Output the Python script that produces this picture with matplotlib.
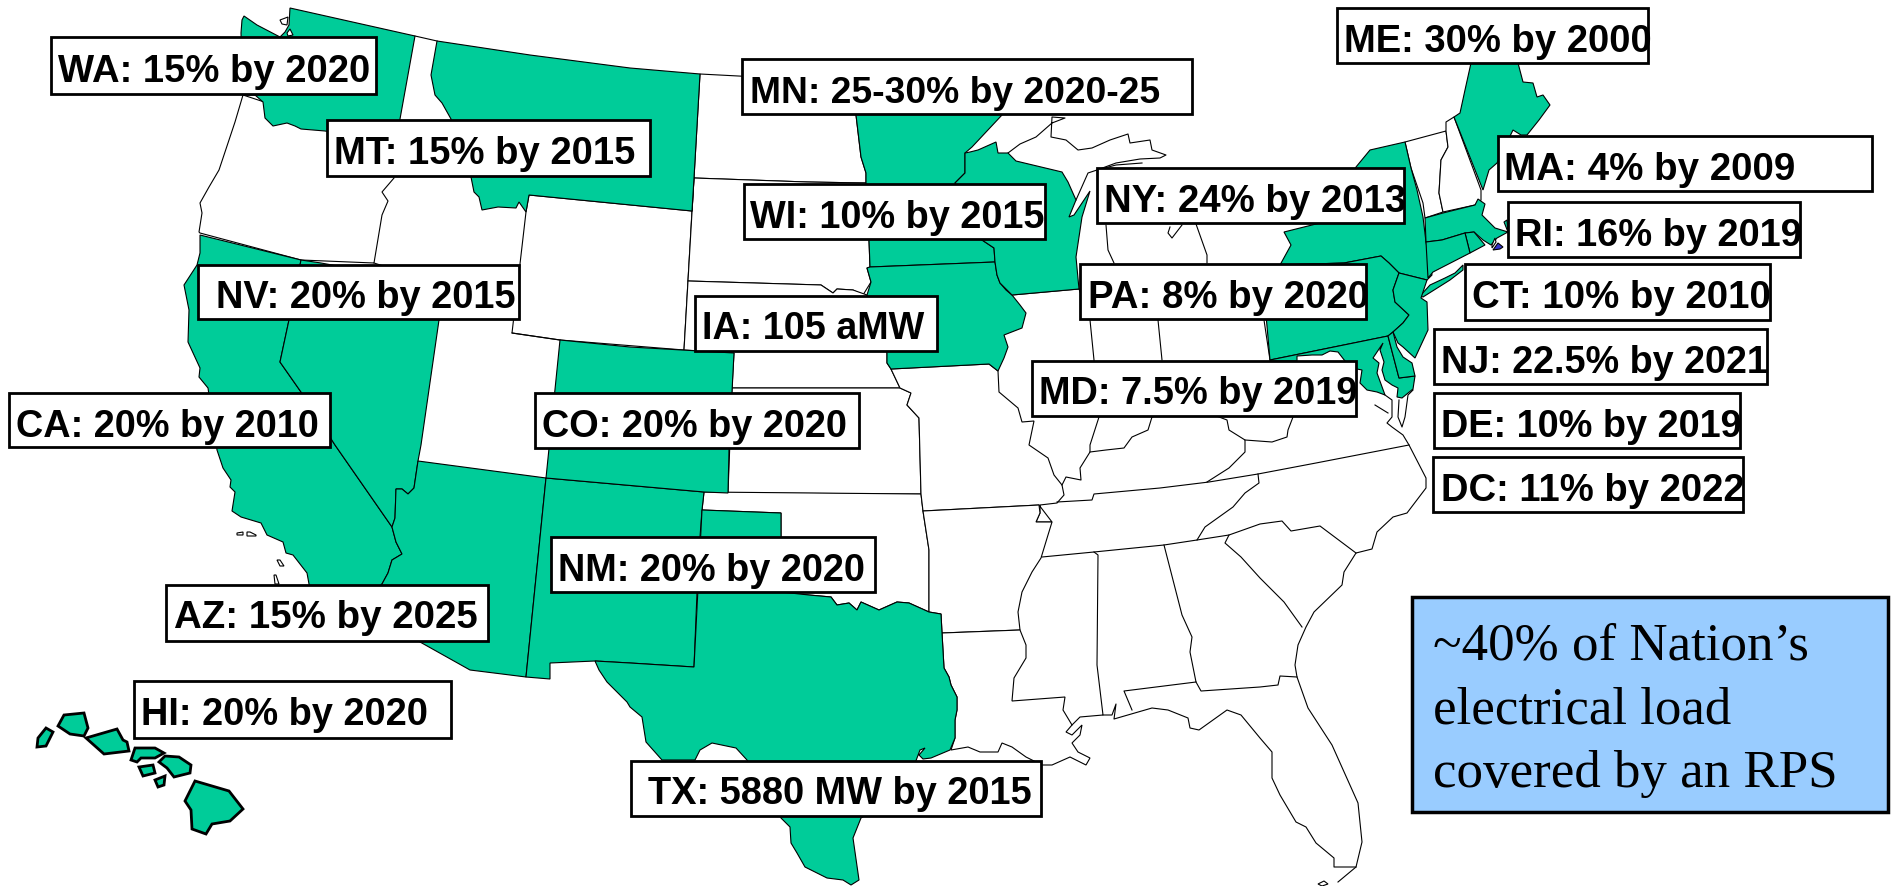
import matplotlib
matplotlib.use('Agg')
import matplotlib.pyplot as plt
from matplotlib.patches import Polygon, Rectangle

# State outlines (x, y in image pixels)
WA = [(290,8),(415,36),(400,119),(395,145),(325,131),(301,129),(295,126),(287,123),(273,126),(265,118),(263,102),(255,95),(243,95),(241,33),(242,20),(244,16),(257,25),(280,37),(285,32),(289,25)]
MT = [(437,41),(530,55),(630,68),(700,74),(694,178),(692,211),(529,195),(526,212),(519,202),(516,208),(498,207),(482,210),(479,197),(474,192),(471,177),(451,119),(442,103),(435,95),(431,75)]
CA = [(200,235),(200,253),(197,265),(184,285),(189,310),(188,342),(200,368),(199,377),(208,388),(217,450),(223,468),(231,480),(230,487),(235,492),(232,511),(241,517),(261,523),(267,535),(283,542),(286,553),(293,555),(307,573),(309,584),(312,592),(378,587),(382,584),(388,573),(392,560),(402,554),(396,542),(392,527),(335,445),(301,392),(280,362),(289,320),(301,260)]
NV = [(301,260),(321,263),(443,285),(439,320),(421,445),(418,461),(414,488),(408,494),(402,489),(396,489),(395,518),(392,527),(335,445),(301,392),(280,362),(289,320)]
AZ = [(418,461),(546,478),(526,677),(470,670),(420,642),(378,600),(382,584),(388,573),(392,560),(402,554),(396,542),(392,527),(395,518),(396,489),(402,489),(408,494),(414,488)]
NM = [(546,478),(704,492),(702,510),(700,537),(697,593),(694,667),(630,663),(595,661),(550,663),(550,679),(526,677)]
CO = [(560,340),(630,347),(734,353),(732,392),(729,450),(728,493),(704,492),(546,478)]
TX = [(702,510),(781,513),(781,592),(809,595),(831,597),(837,605),(849,603),(857,610),(861,602),(879,610),(897,602),(909,603),(929,612),(941,614),(942,633),(944,668),(949,677),(951,685),(957,697),(957,710),(955,720),(955,738),(950,750),(931,758),(923,759),(919,755),(925,748),(920,750),(905,790),(861,818),(853,838),(859,880),(851,885),(843,880),(827,878),(805,867),(797,853),(791,843),(790,827),(781,818),(747,760),(736,748),(712,743),(700,750),(695,760),(662,760),(646,742),(642,717),(630,707),(627,702),(607,682),(599,670),(595,661),(630,663),(694,667)]
MN = [(856,115),(853,82),(905,88),(1002,115),(972,147),(965,153),(965,173),(955,183),(982,240),(994,248),(995,262),(870,267),(869,240),(866,183),(866,173),(861,157)]
IA = [(870,267),(995,262),(997,275),(1000,283),(1006,290),(1012,295),(1020,305),(1026,313),(1022,328),(1004,335),(1008,347),(1004,358),(998,371),(989,364),(891,369),(887,363),(887,353),(867,295),(871,282),(867,268)]
WI = [(965,153),(970,152),(978,150),(996,142),(998,153),(1008,153),(1016,161),(1062,172),(1068,182),(1076,200),(1069,217),(1074,215),(1082,203),(1090,191),(1082,217),(1076,257),(1079,289),(1012,295),(1000,283),(997,275),(995,262),(994,248),(982,240),(955,183),(965,173)]
NY = [(1370,150),(1405,142),(1411,168),(1417,190),(1423,217),(1426,242),(1432,275),(1427,280),(1399,273),(1389,263),(1381,256),(1344,263),(1280,265),(1291,245),(1284,232),(1320,223),(1345,190),(1356,167)]
LI = [(1430,285),(1445,278),(1455,273),(1463,265),(1463,270),(1450,280),(1423,297),(1420,296)]
PA = [(1381,256),(1389,263),(1399,273),(1393,290),(1395,302),(1409,315),(1403,323),(1393,332),(1388,336),(1270,360),(1262,270),(1280,265),(1344,263)]
NJ = [(1399,273),(1427,280),(1421,298),(1427,302),(1428,330),(1415,358),(1403,347),(1398,343),(1393,332),(1403,323),(1409,315),(1395,302),(1393,290)]
DE = [(1388,336),(1393,332),(1397,347),(1403,357),(1412,363),(1415,376),(1399,378)]
MD = [(1270,360),(1388,336),(1399,378),(1415,376),(1413,389),(1402,398),(1397,397),(1398,388),(1392,385),(1385,380),(1382,370),(1384,362),(1380,350),(1383,343),(1373,358),(1379,363),(1377,373),(1385,395),(1377,392),(1367,390),(1360,383),(1362,370),(1357,369),(1345,361),(1338,352),(1330,351),(1322,355),(1312,355),(1297,356),(1297,361),(1270,361)]
ME = [(1475,45),(1510,45),(1518,63),(1523,82),(1533,83),(1537,97),(1543,95),(1550,105),(1539,120),(1527,135),(1521,135),(1513,130),(1497,163),(1489,170),(1483,190),(1454,117),(1460,113),(1465,90)]
MA = [(1425,218),(1443,213),(1475,205),(1478,199),(1485,204),(1482,215),(1495,228),(1508,232),(1504,222),(1507,220),(1508,232),(1497,238),(1491,245),(1483,240),(1474,232),(1465,233),(1442,240),(1426,242)]
RI = [(1465,233),(1474,232),(1485,245),(1470,253)]
CT = [(1426,242),(1442,240),(1465,233),(1470,253),(1433,272),(1428,278)]
HI = [
    [(37,747),(38,738),(46,728),(53,732),(46,746)],
    [(58,726),(64,715),(84,713),(88,728),(84,736),(70,734)],
    [(86,738),(117,729),(123,740),(127,742),(129,751),(104,754)],
    [(131,760),(135,748),(155,748),(164,753),(155,758),(141,758),(137,762)],
    [(159,762),(165,756),(179,757),(191,765),(190,773),(174,777),(167,768)],
    [(139,767),(153,765),(155,773),(143,776)],
    [(155,780),(165,776),(164,785),(158,787)],
    [(195,781),(229,791),(243,809),(230,821),(212,824),(206,834),(192,829),(191,810),(185,801)],
]
green_states = [WA, MT, CA, NV, AZ, NM, CO, TX, MN, IA, WI, NY, LI, PA, NJ, MD, DE, ME, MA, RI, CT]

# States without a target, only their outlines are drawn
OR = [(243,95),(235,122),(219,170),(209,187),(200,203),(202,213),(199,232),(200,233),(301,260),(374,263),(382,215),(388,201),(382,192),(394,178),(395,145)]
WY = [(529,195),(692,211),(684,350),(560,340),(512,333),(526,212)]
ND = [(700,74),(853,82),(856,115),(861,157),(866,173),(866,183),(807,182),(694,178)]
SD = [(694,178),(807,182),(866,183),(869,240),(870,267),(867,268),(871,282),(863,295),(853,290),(837,289),(833,293),(821,285),(688,281)]
NE = [(688,281),(821,285),(833,293),(837,289),(853,290),(867,295),(887,353),(887,363),(891,369),(900,388),(732,388),(734,353),(684,350)]
KS = [(732,388),(900,388),(911,393),(907,405),(919,418),(921,494),(728,493)]
OK = [(704,492),(921,494),(923,511),(929,550),(929,612),(909,603),(897,602),(879,610),(861,602),(857,610),(849,603),(837,605),(831,597),(809,595),(781,592),(781,513),(702,510)]
MO = [(891,369),(989,364),(998,371),(999,392),(1018,408),(1022,422),(1034,421),(1029,445),(1048,458),(1054,475),(1062,485),(1064,495),(1057,503),(1040,505),(1040,513),(1036,522),(1052,522),(1039,505),(923,511),(921,494),(919,418),(907,405),(911,393),(900,388)]
AR = [(923,511),(1039,505),(1040,513),(1036,522),(1052,522),(1048,535),(1041,558),(1032,572),(1022,592),(1018,612),(1020,630),(942,633),(941,614),(929,612),(929,550)]
LA = [(942,633),(1020,630),(1026,645),(1026,658),(1014,678),(1012,701),(1065,697),(1063,710),(1072,725),(1066,732),(1072,735),(1082,725),(1080,735),(1072,743),(1078,752),(1090,758),(1086,765),(1070,757),(1052,765),(1042,765),(1026,757),(1012,747),(1002,743),(998,752),(980,752),(968,747),(951,750),(955,738),(955,720),(957,710),(957,697),(951,685),(949,677),(944,668)]
MI_UP = [(1008,153),(1020,144),(1036,137),(1052,123),(1065,118),(1052,117),(1051,137),(1066,140),(1078,150),(1092,148),(1110,140),(1128,134),(1130,143),(1150,140),(1152,150),(1166,155),(1160,158),(1140,159),(1116,163),(1097,170),(1088,173),(1076,200)]
ID_NV = [(374,263),(443,285),(516,294)]
west_lines = [[(443,285),(439,320)], [(512,333),(560,340)], [(415,36),(437,41)], [(692,211),(694,178)]]
# Rivers and borders of the eastern half, drawn as open lines
east_lines = [
    [(1012,295),(1079,289)],
    [(1079,289),(1090,320),(1094,360),(1098,405),(1099,417),(1090,445),(1090,452),(1080,468),(1081,480),(1066,477),(1062,485)],
    [(1090,452),(1106,450),(1124,448),(1132,437),(1148,430),(1152,417)],
    [(1158,320),(1162,360)],
    [(1152,417),(1190,406),(1227,420),(1229,430),(1245,440),(1245,452),(1229,468),(1207,482)],
    [(1245,440),(1272,442),(1287,437),(1288,430),(1293,417)],
    [(1270,360),(1264,320)],
    [(1106,225),(1108,250),(1114,263)],
    [(1196,224),(1207,255),(1207,263)],
    [(1182,225),(1172,238),(1168,233),(1170,227)],
    [(1097,170),(1116,165),(1142,163)],
    [(1057,502),(1092,500),(1094,494),(1160,488),(1209,482),(1258,474),(1316,463),(1409,445)],
    [(1258,474),(1259,483),(1245,493),(1233,507),(1205,527),(1197,540)],
    [(1042,557),(1094,552),(1164,545),(1197,540),(1229,535),(1260,524),(1282,521),(1291,531),(1320,526),(1356,553)],
    [(1094,552),(1098,555),(1097,665),(1103,715),(1080,717),(1072,725)],
    [(1164,545),(1182,615),(1192,637),(1190,652),(1196,682),(1124,691),(1132,710)],
    [(1196,682),(1201,691),(1260,687),(1278,685),(1280,676),(1297,677)],
    [(1229,535),(1225,543),(1241,557),(1260,578),(1284,602),(1302,627)],
    [(1103,715),(1112,715),(1116,704),(1114,719),(1152,708),(1168,710),(1188,718),(1190,728),(1199,730),(1227,710),(1241,715),(1260,738),(1272,752),(1272,778),(1280,795),(1296,822),(1306,827),(1316,843),(1334,858),(1334,867),(1356,867)],
    [(1338,882),(1356,867),(1362,842),(1358,803),(1332,745),(1308,708),(1297,677),(1295,665),(1298,645),(1306,627),(1314,612),(1342,585),(1344,572),(1356,553),(1372,549),(1377,532),(1393,517),(1407,513),(1426,488),(1426,478),(1409,445),(1403,435),(1392,427),(1387,423),(1392,417),(1392,400),(1385,395)],
    [(1375,405),(1388,413)],
    [(1413,390),(1408,395),(1405,417),(1402,427),(1398,417),(1399,400)],
]
# New England states left white
VT = [(1405,142),(1446,131),(1448,147),(1441,160),(1439,193),(1443,212),(1425,218),(1423,203),(1411,168)]
NH = [(1446,122),(1454,117),(1481,190),(1481,200),(1475,205),(1443,212),(1439,193),(1441,160),(1448,147),(1446,131)]
white_states = [OR, WY, ND, SD, NE, KS, OK, MO, AR, LA, VT, NH]
small_islands = [[(237,533),(243,532),(243,535),(237,535)], [(247,532),(250,532),(256,535),(256,536),(247,536)],
                 [(277,560),(280,560),(284,566),(280,566)], [(274,575),(276,575),(279,584),(275,584)],
                 [(280,20),(288,17),(287,25),(282,24)], [(287,33),(290,29),(293,35),(288,36)],
                 [(1318,884),(1324,881),(1328,884),(1322,886)],
                 [(1492,245),(1495,238),(1496,242),(1492,248)]]
nantucket = [(1493,250),(1498,243),(1503,247),(1500,249)]

# Label text, one box per state
labels = ['WA: 15% by 2020', 'MT: 15% by 2015', 'NV: 20% by 2015', 'CA: 20% by 2010', 'CO: 20% by 2020',
          'MN: 25-30% by 2020-25', 'WI: 10% by 2015', 'IA: 105 aMW', 'MD: 7.5% by 2019', 'NY: 24% by 2013',
          'PA: 8% by 2020', 'ME: 30% by 2000', 'MA: 4% by 2009', 'RI: 16% by 2019', 'CT: 10% by 2010',
          'NJ: 22.5% by 2021', 'DE: 10% by 2019', 'DC: 11% by 2022', 'AZ: 15% by 2025', 'HI: 20% by 2020',
          'NM: 20% by 2020', 'TX: 5880 MW by 2015']
# box left, top, right, bottom, text x, baseline, font size
label_pos = [(51,37,376,94,58,82,27.5), (327,120,650,176,334,164,27.5), (198,265,519,319,216,308,27.4), (9,393,330,447,16,437,27.3),
             (535,393,859,448,542,437,27.3), (742,59,1192,114,750,103,26.8), (744,184,1045,239,750,228,27.3), (695,296,937,351,702,339,27.2),
             (1032,361,1356,416,1039,404,27.4), (1097,168,1404,223,1104,212,27.6), (1080,264,1366,319,1088,308,27.6), (1337,8,1648,63,1344,52,27.5),
             (1498,136,1872,191,1504,180,27.7), (1508,202,1800,257,1515,246,27.4), (1465,264,1770,320,1472,308,27.6), (1434,329,1767,384,1441,373,27.2),
             (1434,393,1740,448,1441,437,27.3), (1433,457,1743,512,1441,501,27.5), (166,585,488,641,174,628,27.7), (134,681,451,738,141,725,27.4),
             (551,537,875,592,558,581,27.3), (631,761,1041,816,648,804,27.4)]
note_lines = ['~40% of Nation\u2019s', 'electrical load', 'covered by an RPS']

GREEN = '#00CC99'

fig = plt.figure(figsize=(18.91, 8.86), dpi=100)
ax = fig.add_axes([0, 0, 1, 1])
ax.set_xlim(0, 1891)
ax.set_ylim(886, 0)
ax.axis('off')

for pts in white_states:
    ax.add_patch(Polygon(pts, closed=True, facecolor='white', edgecolor='black', lw=0.8, zorder=1))
for pts in east_lines + west_lines + [MI_UP, ID_NV]:
    ax.plot([p[0] for p in pts], [p[1] for p in pts], color='black', lw=0.8, zorder=1)
for pts in small_islands:
    ax.add_patch(Polygon(pts, closed=True, facecolor='white', edgecolor='black', lw=0.8, zorder=3))
for pts in green_states:
    ax.add_patch(Polygon(pts, closed=True, facecolor=GREEN, edgecolor='black', lw=0.8, zorder=2))
for pts in HI:
    ax.add_patch(Polygon(pts, closed=True, facecolor=GREEN, edgecolor='black', lw=2, zorder=2))
ax.add_patch(Polygon(nantucket, closed=True, facecolor='#3333CC', edgecolor='black', lw=0.8, zorder=3))

for text, (x0, y0, x1, y1, tx, ty, size) in zip(labels, label_pos):
    ax.add_patch(Rectangle((x0, y0), x1 - x0, y1 - y0, facecolor='white', edgecolor='black', lw=2, zorder=4))
    ax.text(tx, ty, text, family='Liberation Sans', weight='bold', fontsize=size, color='black', ha='left', va='baseline', zorder=5)

ax.add_patch(Rectangle((1412, 597), 476, 215, facecolor='#99CCFF', edgecolor='black', lw=2.5, zorder=4))
for line, base in zip(note_lines, [660, 723, 787]):
    ax.text(1433, base, line, family='Liberation Serif', fontsize=38.2, color='black', ha='left', va='baseline', zorder=5)

fig.savefig('out.png', dpi=100)
